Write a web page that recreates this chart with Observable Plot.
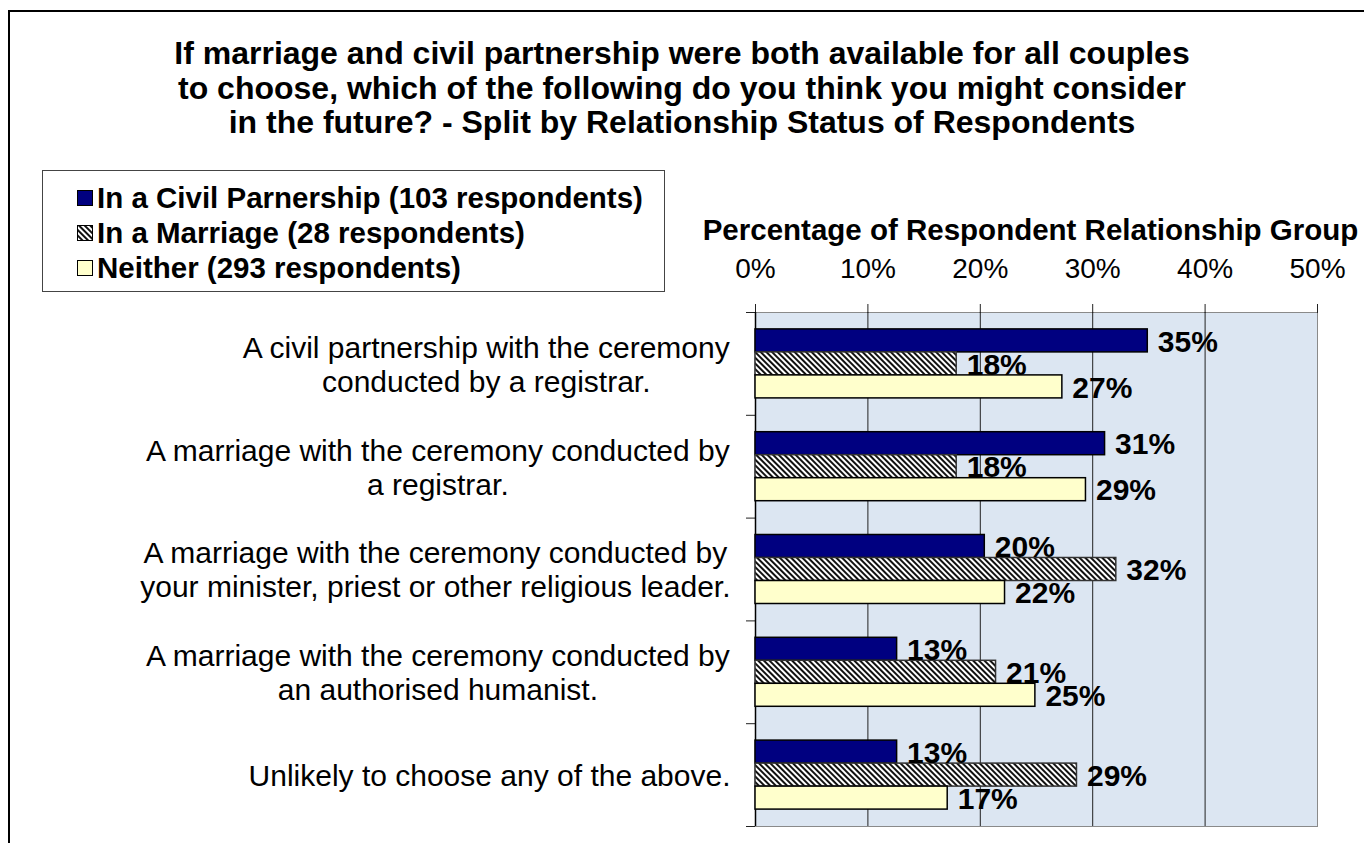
<!DOCTYPE html>
<html>
<head>
<meta charset="utf-8">
<script src="https://cdn.jsdelivr.net/npm/d3@7"></script>
<script src="https://cdn.jsdelivr.net/npm/@observablehq/plot@0.6"></script>
<style>
  html, body { margin: 0; padding: 0; background: #fff; overflow: hidden; width: 1364px; height: 843px;
    font-family: "Liberation Sans", Arial, sans-serif; color: #000; }
  #border { position: absolute; left: 8px; top: 10px; width: 1400px; height: 900px; border: 2px solid #000; box-sizing: border-box; }
  #chart { position: absolute; left: 0; top: 0; }
  #title { position: absolute; left: 0; top: 36px; width: 1364px; text-align: center; font-weight: bold; font-size: 32px; line-height: 34.5px; }
  #legend { position: absolute; left: 42px; top: 170px; width: 623px; height: 122px; border: 1px solid #444; box-sizing: border-box; padding-top: 9px; background: #fff; }
  .row { display: flex; align-items: center; height: 35px; font-weight: bold; font-size: 29.5px; white-space: nowrap; }
  .sw { width: 16px; height: 16px; margin-left: 34px; margin-right: 4px; flex: none; }
</style>
</head>
<body>
<svg width="0" height="0" style="position:absolute">
  <defs>
    <pattern id="hatch" width="4" height="4" patternUnits="userSpaceOnUse" patternTransform="rotate(-45)">
      <rect width="4" height="4" fill="#fff"></rect>
      <rect width="2" height="4" fill="#111"></rect>
    </pattern>
  </defs>
</svg>
<div id="chart"></div>
<div id="border"></div>
<div id="title"></div>
<div id="legend"></div>
<script>
// ---- data ----
const titleLines = [
  "If marriage and civil partnership were both available for all couples",
  "to choose, which of the following do you think you might consider",
  "in the future? - Split by Relationship Status of Respondents"
];
const axisTitle = "Percentage of Respondent Relationship Group";
const categories = [
  "A civil partnership with the ceremony\nconducted by a registrar.",
  "A marriage with the ceremony conducted by\na registrar.",
  "A marriage with the ceremony conducted by\nyour minister, priest or other religious leader.",
  "A marriage with the ceremony conducted by\nan authorised humanist.",
  "Unlikely to choose any of the above."
];
const seriesNames = [
  "In a Civil Parnership (103 respondents)",
  "In a Marriage (28 respondents)",
  "Neither (293 respondents)"
];
const civilPartnership = [34.9, 31.1, 20.4, 12.6, 12.6];
const marriage = [17.9, 17.9, 32.1, 21.4, 28.6];
const neither = [27.3, 29.4, 22.2, 24.9, 17.1];
const xTicks = [0, 10, 20, 30, 40, 50];

// ---- styles ----
const seriesFills = ["#000080", "url(#hatch)", "#ffffcc"];
const seriesStrokes = ["#000", "#333", "#000"];

const W = 1364, H = 843;
const mL = 755, mR = 47, mT = 312, mB = 17;
const band = (H - mT - mB) / categories.length;
const barH = 23;
const groupPad = (band - 3 * barH) / 2;

const seriesValues = [civilPartnership, marriage, neither];
const rows = categories.flatMap((c, i) => seriesValues.map((vals, s) => ({category: c, series: s, value: vals[i]})));

// title
document.getElementById("title").innerHTML = titleLines.map(t => `<div>${t}</div>`).join("");

// legend
document.getElementById("legend").innerHTML = seriesNames.map((n, s) =>
  `<div class="row"><svg class="sw" width="16" height="16"><rect x="0.5" y="0.5" width="15" height="15" fill="${seriesFills[s]}" stroke="#000"></rect></svg><span>${n}</span></div>`
).join("");

// measure category label blocks to centre lines inside a right-aligned block
const ctx = document.createElement("canvas").getContext("2d");
const catFont = 30;
ctx.font = `${catFont}px "Liberation Sans", Arial, sans-serif`;
const blockWidth = c => Math.max(...c.split("\n").map(l => ctx.measureText(l).width));

const marks = [
  Plot.frame({fill: "#dce6f2", stroke: "#8a8a8a"}),
  Plot.gridX({ticks: xTicks.slice(1, -1), stroke: "#222", strokeOpacity: 1}),
  Plot.axisX({anchor: "top", ticks: xTicks, tickFormat: d => d + "%", tickSize: 9, tickPadding: 26,
    fontSize: 28, label: null, stroke: "#222"}),
  Plot.axisY({anchor: "left", tickSize: 9, tickFormat: () => "", dy: -band / 2, label: null, stroke: "#222"}),
  Plot.axisY({anchor: "left", ticks: [categories[categories.length - 1]], tickSize: 9, tickFormat: () => "", dy: band / 2, label: null, stroke: "#222"}),
  Plot.ruleX([0], {stroke: "#000", strokeWidth: 1.5}),
  ...seriesValues.map((_, s) => Plot.barX(rows.filter(d => d.series === s), {
    x: "value", y: "category", fill: seriesFills[s], stroke: seriesStrokes[s], strokeWidth: 1.5,
    insetTop: groupPad + s * barH, insetBottom: band - groupPad - (s + 1) * barH
  })),
  ...seriesValues.map((_, s) => Plot.text(rows.filter(d => d.series === s), {
    x: "value", y: "category", text: d => Math.round(d.value) + "%",
    textAnchor: "start", lineAnchor: "middle", dx: 10, dy: (s - 1) * barH + 1,
    fontSize: 30, fontWeight: "bold", fill: "#000"
  })),
  ...categories.map(c => Plot.text([c], {
    y: d => d, text: d => d, frameAnchor: "left", textAnchor: "middle", lineAnchor: "middle",
    lineHeight: 34 / catFont, fontSize: catFont, dx: -(25 + blockWidth(c) / 2), fill: "#000"
  })),
  Plot.text([axisTitle], {text: d => d, frameAnchor: "top", lineAnchor: "middle", dy: -82, dx: -6,
    fontSize: 29.5, fontWeight: "bold", fill: "#000"})
];

const chart = Plot.plot({
  width: W, height: H,
  marginLeft: mL, marginRight: mR, marginTop: mT, marginBottom: mB,
  style: {background: "transparent", fontFamily: '"Liberation Sans", Arial, sans-serif', color: "#000", overflow: "visible"},
  x: {domain: [0, 50], axis: null},
  y: {domain: categories, padding: 0, round: false, axis: null},
  marks
});
document.getElementById("chart").appendChild(chart);
</script>
</body>
</html>
